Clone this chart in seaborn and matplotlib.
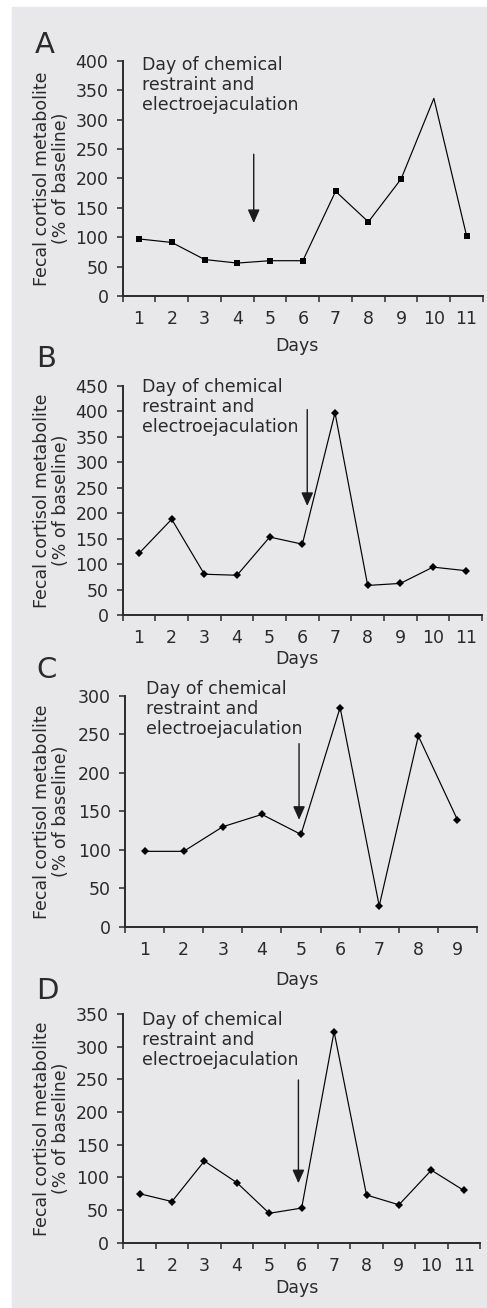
import numpy as np
import pandas as pd
import matplotlib
matplotlib.use("Agg")
import matplotlib.pyplot as plt
import matplotlib.transforms as mtransforms
from matplotlib.patches import Rectangle
import seaborn as sns

sns.set_theme(style="white")
plt.rcParams["font.family"] = ["DejaVu Sans"]

W, H = 487, 1308
INK = "#2a2a2a"
BG = "#e8e8ea"

# data (% of baseline per day)
days_a = list(range(1, 12))
cortisol_a = [97, 91, 62, 56, 60, 60, 178, 126, 199, 336, 102]
days_b = list(range(1, 12))
cortisol_b = [121, 188, 80, 78, 153, 139, 397, 58, 62, 94, 87]
days_c = list(range(1, 10))
cortisol_c = [98, 98, 130, 146, 120, 285, 27, 248, 139]
days_d = list(range(1, 12))
cortisol_d = [75, 63, 125, 92, 45, 53, 323, 73, 58, 111, 80]

letters = ["A", "B", "C", "D"]
y_max = [400, 450, 300, 350]
markers = ["s", "D", "D", "D"]
marker_sizes = [5, 3.6, 3.6, 3.6]
hidden_marker = [[9], [], [], []]

# arrow for the day of chemical restraint (day position, top, tip)
arrow_x = [4.5, 6.15, 4.95, 5.9]
arrow_top = [241, 403, 238, 249]
arrow_tip = [124, 214, 139, 91]

note = "Day of chemical\nrestraint and\nelectroejaculation"

# layout in pixels
boxes = [(122.7, 483, 60.7, 296), (122.7, 482, 385.7, 615),
         (125, 477, 696, 926.7), (123.3, 480, 1014, 1242.7)]
letter_pos = [(35, 53), (36, 367), (36, 678), (36, 999)]
note_pos = [(141.7, 56), (141.7, 378), (145.7, 680), (141.7, 1011)]
days_baseline = [350.7, 664, 985, 1293.3]

fig = plt.figure(figsize=(W / 100, H / 100), dpi=100)
fig.patch.set_facecolor("white")
fig.add_artist(Rectangle((12 / W, 0), (W - 12) / W, (H - 7) / H,
                         transform=fig.transFigure, color=BG, zorder=0))

series = [(days_a, cortisol_a), (days_b, cortisol_b),
          (days_c, cortisol_c), (days_d, cortisol_d)]

for i, (days, vals) in enumerate(series):
    left, right, top, bottom = boxes[i]
    ax = fig.add_axes([left / W, 1 - bottom / H, (right - left) / W, (bottom - top) / H])
    ax.set_facecolor("none")
    n = len(days)
    keep = [k for k in range(n) if k not in hidden_marker[i]]
    sns.lineplot(x=days, y=vals, ax=ax, color="black", linewidth=0.85,
                 marker=markers[i], markersize=marker_sizes[i],
                 markeredgewidth=0, markevery=keep)

    ax.set_xlim(0.5, n + 0.5)
    ax.set_ylim(0, y_max[i])
    ax.set_xticks(days)
    ax.set_xticks(np.arange(0.5, n + 1, 1), minor=True)
    ax.set_yticks(np.arange(0, y_max[i] + 1, 50))
    ax.tick_params(axis="x", which="major", length=0, pad=10,
                   labelsize=12.5, labelcolor=INK)
    ax.tick_params(axis="x", which="minor", bottom=True, length=4,
                   width=1.1, direction="out", color=INK)
    ax.tick_params(axis="y", left=True, length=4.3, width=1.1, pad=6,
                   direction="out", labelsize=12.5, labelcolor=INK, color=INK)
    sns.despine(ax=ax)
    for s in ["left", "bottom"]:
        ax.spines[s].set_linewidth(1.4)
        ax.spines[s].set_color(INK)

    ax.set_ylabel("Fecal cortisol metabolite\n(% of baseline)",
                  fontsize=12.5, color=INK, linespacing=1.1)
    ax.yaxis.set_label_coords(70 / W, 0.5,
                              transform=mtransforms.blended_transform_factory(
                                  fig.transFigure, ax.transAxes))
    ax.set_xlabel("Days", fontsize=12.5, color=INK)
    ax.xaxis.set_label_coords(297 / W, 1 - days_baseline[i] / H,
                              transform=fig.transFigure)
    ax.xaxis.label.set_va("baseline")

    ax.annotate("", xy=(arrow_x[i], arrow_tip[i]), xytext=(arrow_x[i], arrow_top[i]),
                arrowprops=dict(arrowstyle="-|>,head_length=0.45,head_width=0.2",
                                color="#1a1a1a", lw=1.0,
                                mutation_scale=18, shrinkA=0, shrinkB=0))

    nx, ny = note_pos[i]
    fig.text(nx / W, 1 - ny / H, note, ha="left", va="top",
             fontsize=12.5, color=INK, linespacing=1.15)
    lx, ly = letter_pos[i]
    fig.text(lx / W, 1 - ly / H, letters[i], ha="left", va="baseline",
             fontsize=21, color=INK)

fig.savefig("out.png", dpi=100)
